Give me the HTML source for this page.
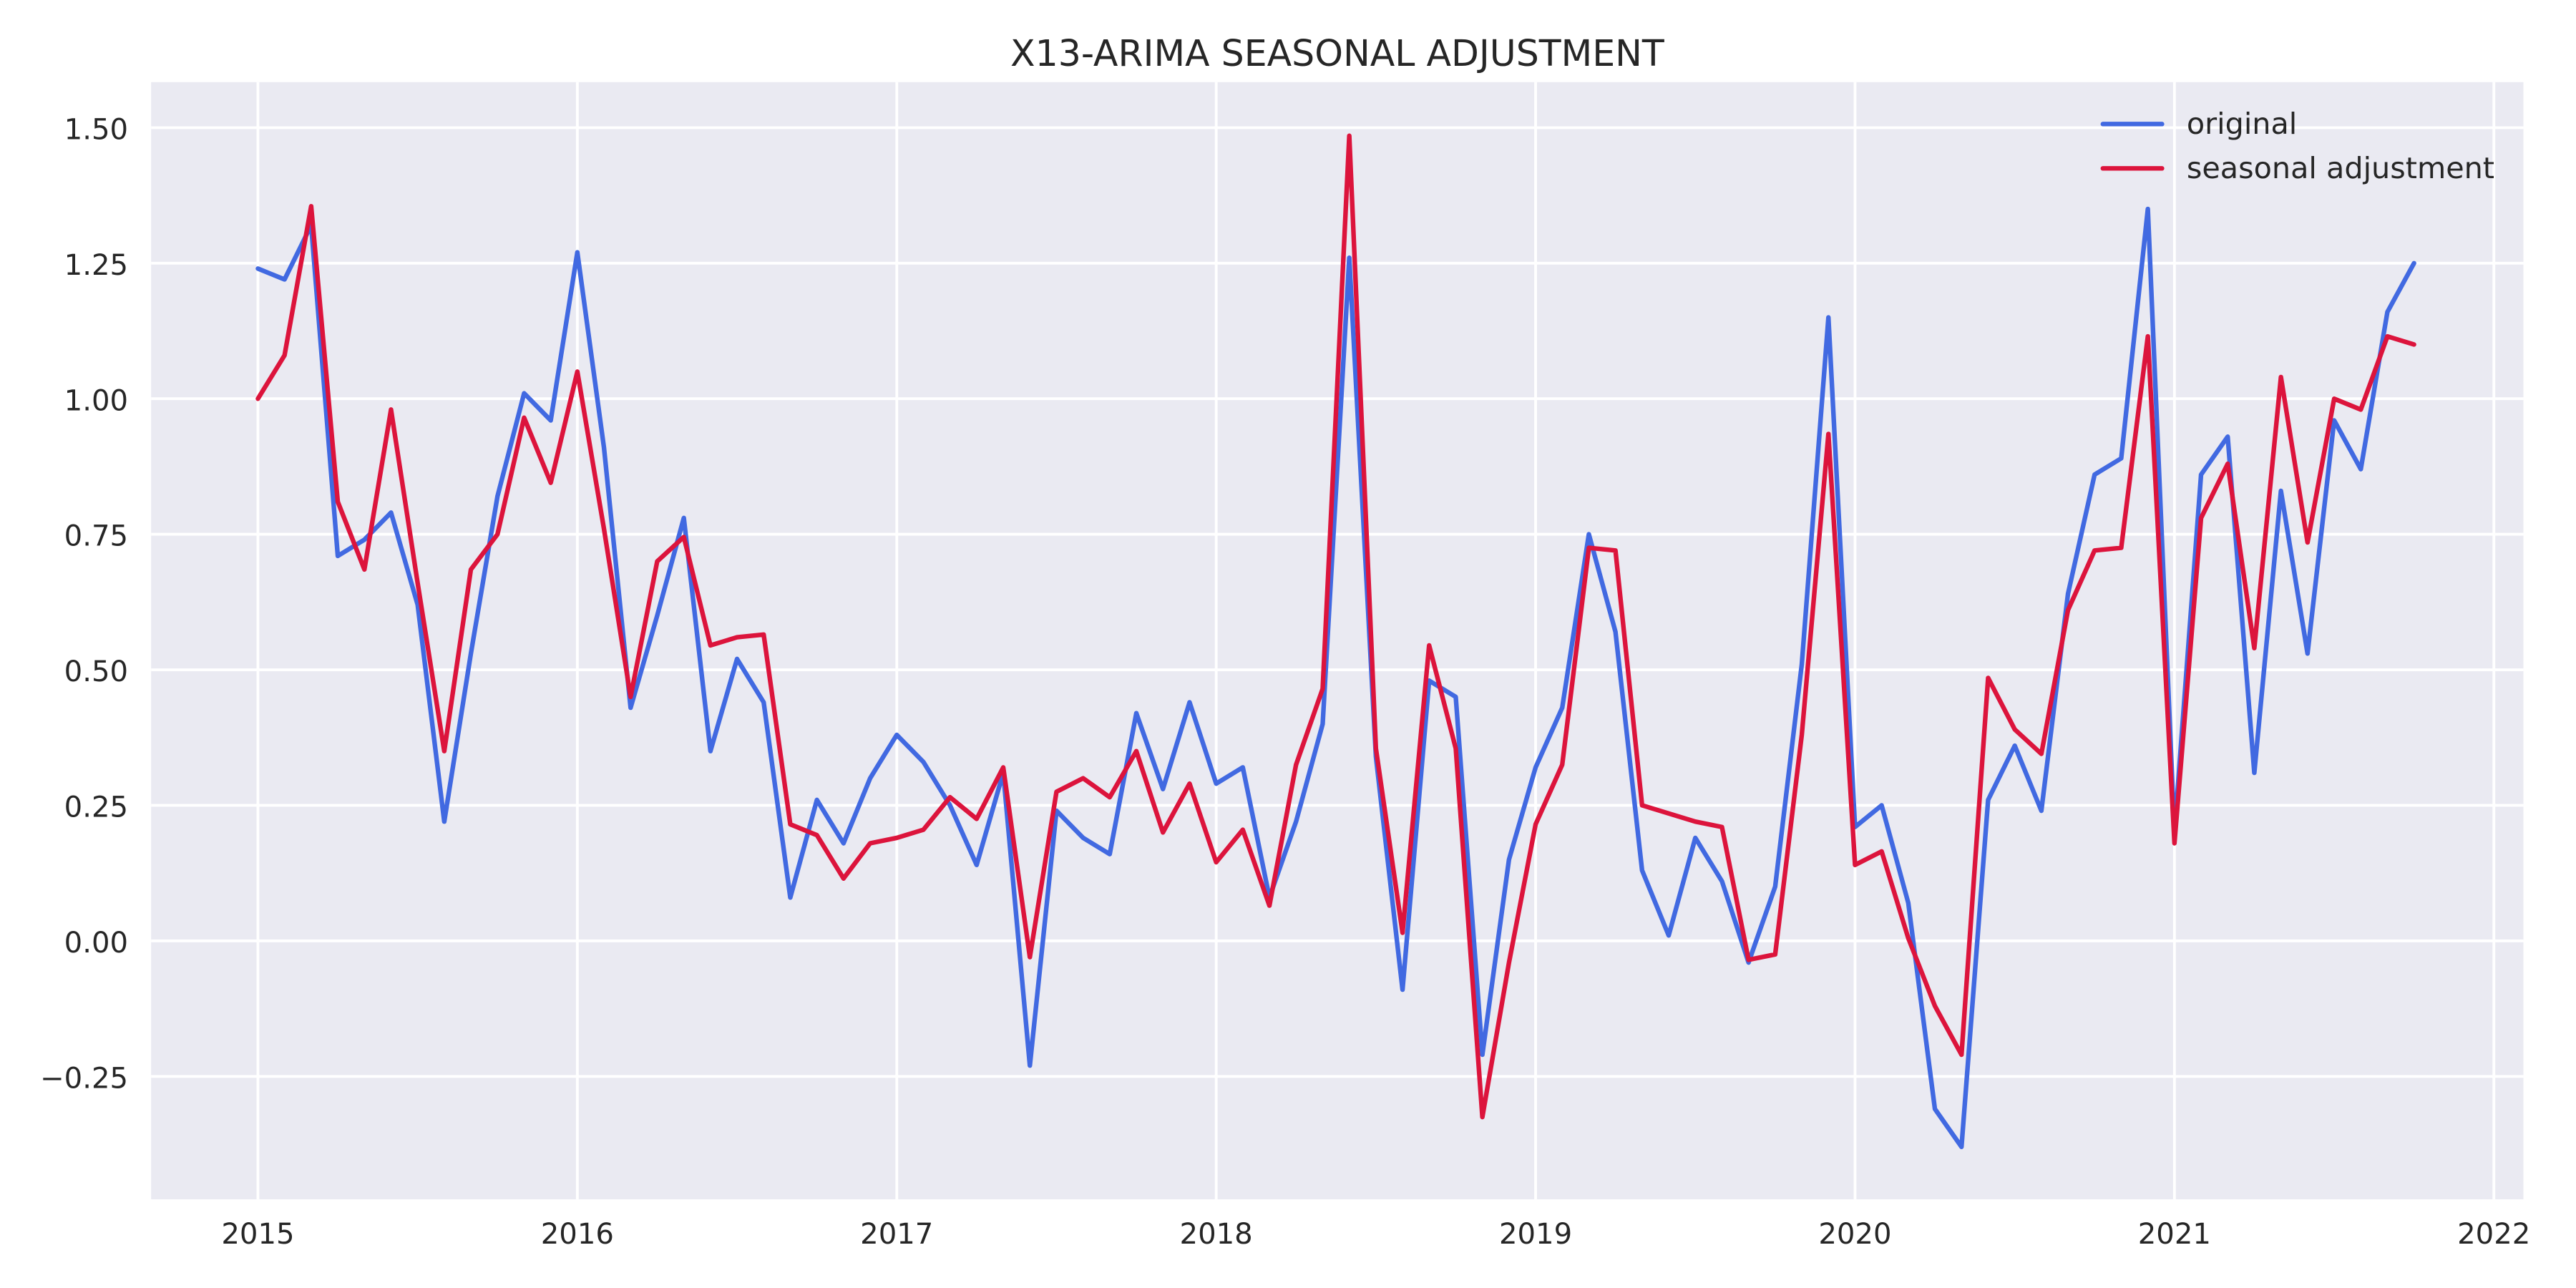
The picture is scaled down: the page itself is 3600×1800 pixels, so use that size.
<!DOCTYPE html>
<html><head><meta charset="utf-8"><style>
html,body{margin:0;padding:0;background:#fff;}
svg{display:block;font-family:"DejaVu Sans","Liberation Sans",sans-serif;}
</style></head><body>
<svg id="chart" width="3600" height="1800" viewBox="0 0 1568 784" xmlns="http://www.w3.org/2000/svg">
<rect x="0" y="0" width="1568" height="784" fill="#fff"/>
<rect x="92" y="50" width="1444" height="680" fill="#eaeaf2"/>
<g id="grid"></g>
<g id="xticks"></g>
<g id="yticks"></g>
<g id="series"></g>
<text x="814" y="40" font-size="22" text-anchor="middle" fill="#262626">X13-ARIMA SEASONAL ADJUSTMENT</text>
<g>
<line x1="1280" y1="75.5" x2="1316" y2="75.5" stroke="#4169e1" stroke-width="2.8" stroke-linecap="round"/>
<text x="1331" y="81.5" font-size="18" fill="#262626">original</text>
<line x1="1280" y1="102.5" x2="1316" y2="102.5" stroke="#dc143c" stroke-width="2.8" stroke-linecap="round"/>
<text x="1331" y="108.5" font-size="18" fill="#262626">seasonal adjustment</text>
</g>
</svg>
<script>
const startYear = 2015;
const original = [
1.24,1.22,1.32,0.71,0.74,0.79,0.62,0.22,0.53,0.82,1.01,0.96,
1.27,0.91,0.43,0.60,0.78,0.35,0.52,0.44,0.08,0.26,0.18,0.30,
0.38,0.33,0.25,0.14,0.31,-0.23,0.24,0.19,0.16,0.42,0.28,0.44,
0.29,0.32,0.08,0.22,0.40,1.26,0.34,-0.09,0.48,0.45,-0.21,0.15,
0.32,0.43,0.75,0.57,0.13,0.01,0.19,0.11,-0.04,0.10,0.51,1.15,
0.21,0.25,0.07,-0.31,-0.38,0.26,0.36,0.24,0.64,0.86,0.89,1.35,
0.20,0.86,0.93,0.31,0.83,0.53,0.96,0.87,1.16,1.25];
const seasonal = [
1.00,1.08,1.355,0.81,0.685,0.98,0.66,0.35,0.685,0.75,0.965,0.845,
1.05,0.76,0.45,0.70,0.745,0.545,0.56,0.565,0.215,0.195,0.115,0.18,
0.19,0.205,0.265,0.225,0.32,-0.03,0.275,0.30,0.265,0.35,0.20,0.29,
0.145,0.205,0.065,0.325,0.465,1.485,0.355,0.015,0.545,0.355,-0.325,-0.04,
0.215,0.325,0.725,0.72,0.25,0.235,0.22,0.21,-0.035,-0.025,0.38,0.935,
0.14,0.165,0.005,-0.12,-0.21,0.485,0.39,0.345,0.61,0.72,0.725,1.115,
0.18,0.78,0.88,0.54,1.04,0.735,1.0,0.98,1.115,1.10];
const xTickLabels = ["2015","2016","2017","2018","2019","2020","2021","2022"];
const yTickValues = [-0.25,0,0.25,0.5,0.75,1.0,1.25,1.5];
const yTickLabels = ["\u22120.25","0.00","0.25","0.50","0.75","1.00","1.25","1.50"];

const NS="http://www.w3.org/2000/svg";
function xScale(t){return 157+(t-2015)*194.43;}
function yScale(v){return 572.7-v*330;}
function mk(tag,attrs,parent){const e=document.createElementNS(NS,tag);for(const k in attrs)e.setAttribute(k,attrs[k]);parent.appendChild(e);return e;}
const grid=document.getElementById('grid'),xt=document.getElementById('xticks'),yt=document.getElementById('yticks'),ser=document.getElementById('series');
xTickLabels.forEach(l=>{
  const x=xScale(+l);
  const g=mk('line',{x1:x,x2:x,y1:50,y2:730,stroke:'#fff','stroke-width':1.7},grid);
  
  
  const t=mk('text',{x:x,y:757,'font-size':17.5,'text-anchor':'middle',fill:'#262626'},xt);
  t.textContent=l;
  
  
});
yTickValues.forEach((v,i)=>{
  const y=yScale(v);
  const g=mk('line',{x1:92,x2:1536,y1:y,y2:y,stroke:'#fff','stroke-width':1.7},grid);
  
  
  const t=mk('text',{x:78,y:y+7,'font-size':17.5,'text-anchor':'end',fill:'#262626'},yt);
  t.textContent=yTickLabels[i];
  
  
});
function path(arr){return arr.map((v,i)=>(i?'L':'M')+xScale(startYear+i/12).toFixed(2)+','+yScale(v).toFixed(2)).join(' ');}
const p1=mk('path',{d:path(original),fill:'none',stroke:'#4169e1','stroke-width':2.8,'stroke-linejoin':'round','stroke-linecap':'round'},ser);


const p2=mk('path',{d:path(seasonal),fill:'none',stroke:'#dc143c','stroke-width':2.8,'stroke-linejoin':'round','stroke-linecap':'round'},ser);


</script>
</body></html>
